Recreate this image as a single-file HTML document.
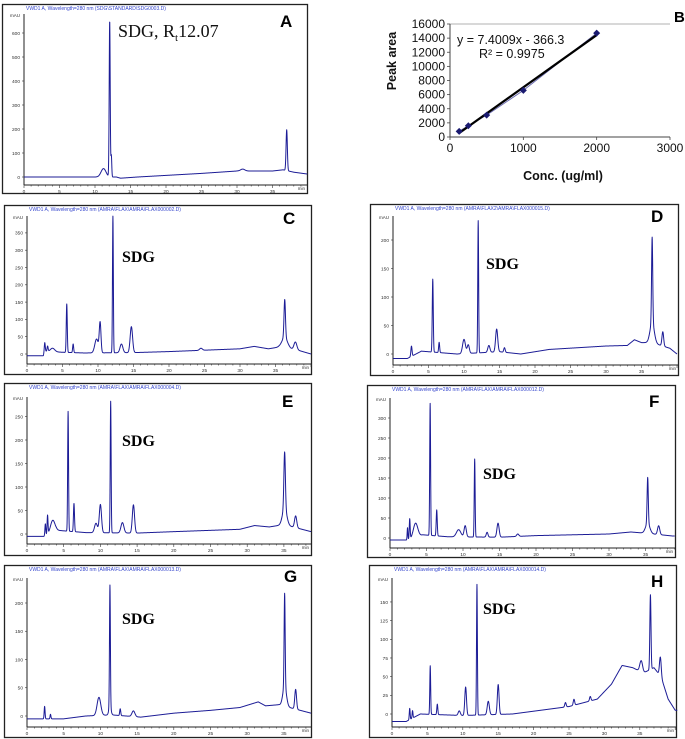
<!DOCTYPE html>
<html><head><meta charset="utf-8"><style>
body{margin:0;background:#fff;}
svg{display:block;font-family:"Liberation Sans",sans-serif;}
</style></head><body>
<svg id="fig" width="685" height="739" viewBox="0 0 685 739"></svg>
<script>
// ---- Panel B calibration data ----
const calConc = [125, 250, 500, 1000, 2000];
const calArea = [800, 1600, 3100, 6600, 14700];
const calXTicks = [0, 1000, 2000, 3000];
const calYTicks = [0, 2000, 4000, 6000, 8000, 10000, 12000, 14000, 16000];
const calSlope = 7.4009, calIntercept = -366.3;

// ---- Chromatogram data (retention time min, height mAU, width min) ----
const rtA = [11.2, 12.07, 12.3, 37.0, 30.8];
const hA  = [35, 650, 90, 170, 8];
const wA  = [0.35, 0.07, 0.06, 0.09, 0.3];
const btA = [0, 13, 13.6, 16, 25, 30, 35, 36.5, 38, 40];
const bvA = [0, 0, -5, 0, 15, 25, 25, 30, 20, 12];

const rtC = [2.5, 2.9, 3.6, 5.6, 6.5, 9.8, 10.3, 12.1, 13.3, 14.7, 24.5, 36.3, 36.3, 37.8];
const hC  = [25, 15, 10, 140, 25, 40, 85, 395, 25, 75, 6, 110, 30, 22];
const wC  = [0.07, 0.07, 0.3, 0.07, 0.07, 0.25, 0.12, 0.06, 0.2, 0.17, 0.2, 0.1, 0.4, 0.2];
const btC = [0, 2.3, 2.5, 5, 8, 15, 20, 30, 32, 34, 35.5, 38, 40];
const bvC = [-5, -5, 8, 5, 3, 4, 7, 15, 22, 15, 20, 12, 0];

const rtD = [2.6, 5.6, 6.5, 10.0, 10.6, 12.0, 13.5, 14.6, 15.7, 36.5, 36.5, 38.0];
const hD  = [18, 128, 18, 25, 15, 232, 12, 40, 8, 150, 35, 25];
const wD  = [0.08, 0.07, 0.07, 0.2, 0.15, 0.06, 0.15, 0.15, 0.1, 0.08, 0.3, 0.12];
const btD = [0, 2, 4, 9, 15, 18, 22, 30, 33, 34, 35, 36.5, 39, 40];
const bvD = [-8, -8, 5, 0, 4, 0, 8, 14, 15, 25, 20, 20, 10, 0];

const rtE = [2.5, 2.8, 3.5, 5.6, 6.4, 9.4, 10.0, 11.4, 13.0, 14.5, 35.1, 35.1, 36.6];
const hE  = [25, 40, 25, 255, 60, 20, 60, 280, 22, 60, 120, 35, 25];
const wE  = [0.06, 0.06, 0.3, 0.06, 0.07, 0.2, 0.15, 0.06, 0.2, 0.15, 0.1, 0.3, 0.15];
const btE = [0, 2.3, 4, 8, 15, 20, 29, 31, 33, 35, 38.7];
const bvE = [-5, -5, 8, 3, 2, 5, 10, 18, 15, 20, 5];

const rtF = [2.4, 2.7, 3.5, 5.5, 6.4, 9.4, 10.3, 11.6, 13.3, 14.8, 17.5, 35.3, 35.3, 36.8];
const hF  = [30, 50, 35, 330, 65, 18, 28, 195, 12, 35, 6, 115, 25, 22];
const wF  = [0.05, 0.06, 0.3, 0.06, 0.07, 0.3, 0.15, 0.06, 0.12, 0.15, 0.15, 0.08, 0.3, 0.15];
const btF = [0, 2.3, 4.5, 8, 15, 20, 30, 33, 35, 38.7];
const bvF = [-5, -5, 8, 3, 2, 6, 10, 15, 12, 5];

const rtG = [2.4, 3.2, 9.8, 11.3, 11.3, 12.7, 14.5, 35.1, 35.1, 36.6];
const hG  = [22, 8, 32, 215, 15, 12, 10, 165, 35, 35];
const wG  = [0.06, 0.06, 0.25, 0.06, 0.15, 0.07, 0.2, 0.07, 0.25, 0.12];
const btG = [0, 2, 5, 8, 11.5, 15.5, 20, 25, 29, 31.5, 32.5, 34.3, 38.7];
const bvG = [-5, -5, -5, 0, 2, -2, 5, 10, 15, 25, 18, 20, 5];

const rtH = [2.5, 2.9, 5.4, 6.4, 9.5, 10.4, 12.0, 13.6, 15.0, 24.5, 25.7, 28.0, 35.2, 36.5, 37.9];
const hH  = [15, 10, 65, 14, 6, 38, 175, 18, 40, 6, 8, 6, 15, 100, 25];
const wH  = [0.06, 0.06, 0.06, 0.07, 0.15, 0.12, 0.06, 0.15, 0.12, 0.1, 0.1, 0.1, 0.2, 0.08, 0.12];
const btH = [0, 2, 4, 10, 17, 25, 29, 31, 32.5, 34, 35.5, 37, 38, 39, 40];
const bvH = [-10, -10, 0, -2, 0, 10, 20, 40, 65, 62, 55, 62, 50, 20, 5];

const yTicksA = [0, 100, 200, 300, 400, 500, 600];
const yTicksC = [0, 50, 100, 150, 200, 250, 300, 350];
const yTicksD = [0, 50, 100, 150, 200];
const yTicksE = [0, 50, 100, 150, 200, 250];
const yTicksF = [0, 50, 100, 150, 200, 250, 300];
const yTicksG = [0, 50, 100, 150, 200];
const yTicksH = [0, 25, 50, 75, 100, 125, 150];
const xTicksChrom = [0, 5, 10, 15, 20, 25, 30, 35];

const NS = "http://www.w3.org/2000/svg";
const svg = document.getElementById('fig');
function mk(tag, attrs, parent, text){
  const e = document.createElementNS(NS, tag);
  for (const k in attrs) e.setAttribute(k, attrs[k]);
  if (text !== undefined) e.textContent = text;
  (parent || svg).appendChild(e);
  return e;
}
function interp(t, bt, bv){
  if (t <= bt[0]) return bv[0];
  for (let i = 1; i < bt.length; i++){
    if (t <= bt[i]){ const f = (t - bt[i-1]) / (bt[i] - bt[i-1]); return bv[i-1] + f * (bv[i] - bv[i-1]); }
  }
  return bv[bv.length - 1];
}

const panels = [
 {id:'a', letter:'A', box:[2,4,305,189], x0:24, ppm:7.1, zeroY:177, ppu:0.24, yTop:14, axY:185, tmax:39.9, yt:yTicksA, rt:rtA, h:hA, w:wA, bt:btA, bv:bvA, lx:280, ly:27, header:'VWD1 A, Wavelength=280 nm (SDG\\STANDARD\\SDG0003.D)'},
 {id:'c', letter:'C', box:[4,205,307,169], x0:27, ppm:7.1, zeroY:354, ppu:0.346, yTop:216, axY:364, tmax:40, yt:yTicksC, rt:rtC, h:hC, w:wC, bt:btC, bv:bvC, lx:283, ly:224, sx:122, sy:262, header:'VWD1 A, Wavelength=280 nm (AMRA\\FLAX\\AMRA\\FLAX000002.D)'},
 {id:'d', letter:'D', box:[370,204,308,171], x0:393, ppm:7.1, zeroY:354, ppu:0.57, yTop:216, axY:365, tmax:40, yt:yTicksD, rt:rtD, h:hD, w:wD, bt:btD, bv:bvD, lx:651, ly:222, sx:486, sy:269, header:'VWD1 A, Wavelength=280 nm (AMRA\\FLAX2\\AMRA\\FLAX000015.D)'},
 {id:'e', letter:'E', box:[4,383,307,172], x0:27, ppm:7.34, zeroY:534, ppu:0.47, yTop:397, axY:544, tmax:38.7, yt:yTicksE, rt:rtE, h:hE, w:wE, bt:btE, bv:bvE, lx:282, ly:407, sx:122, sy:446, header:'VWD1 A, Wavelength=280 nm (AMRA\\FLAX\\AMRA\\FLAX000004.D)'},
 {id:'f', letter:'F', box:[367,385,308,172], x0:390, ppm:7.3, zeroY:538, ppu:0.40, yTop:398, axY:548, tmax:39, yt:yTicksF, rt:rtF, h:hF, w:wF, bt:btF, bv:bvF, lx:649, ly:407, sx:483, sy:479, header:'VWD1 A, Wavelength=280 nm (AMRA\\FLAX\\AMRA\\FLAX000012.D)'},
 {id:'g', letter:'G', box:[4,565,307,172], x0:27, ppm:7.34, zeroY:716, ppu:0.565, yTop:578, axY:727, tmax:38.7, yt:yTicksG, rt:rtG, h:hG, w:wG, bt:btG, bv:bvG, lx:284, ly:582, sx:122, sy:624, header:'VWD1 A, Wavelength=280 nm (AMRA\\FLAX\\AMRA\\FLAX000013.D)'},
 {id:'h', letter:'H', box:[369,565,307,172], x0:392, ppm:7.08, zeroY:714, ppu:0.747, yTop:578, axY:727, tmax:40.3, yt:yTicksH, rt:rtH, h:hH, w:wH, bt:btH, bv:bvH, lx:651, ly:587, sx:483, sy:614, header:'VWD1 A, Wavelength=280 nm (AMRA\\FLAX\\AMRA\\FLAX000014.D)'}
];

panels.forEach(p => {
  const g = mk('g', {});
  
  
  const [bx, by, bw, bh] = p.box;
  const r = mk('rect', {x:bx+0.5, y:by+0.5, width:bw, height:bh, fill:'#fff', stroke:'#222', 'stroke-width':1.3}, g);
  
  
  const hd = mk('text', {x:p.x0+2, y:by+6, 'font-size':5, fill:'#3344cc'}, g, p.header);
  
  
  const right = bx + bw;
  const ya = mk('line', {x1:p.x0, y1:p.yTop, x2:p.x0, y2:p.axY, stroke:'#222', 'stroke-width':1}, g);
  
  
  const xa = mk('line', {x1:p.x0, y1:p.axY, x2:right, y2:p.axY, stroke:'#222', 'stroke-width':1}, g);
  
  
  const mau = mk('text', {x:p.x0-4, y:p.yTop+3, 'font-size':4.5, fill:'#333', 'text-anchor':'end'}, g, 'mAU');
  
  
  p.yt.forEach(v => {
    const y = p.zeroY - v * p.ppu;
    mk('line', {x1:p.x0-2, y1:y, x2:p.x0, y2:y, stroke:'#333', 'stroke-width':0.6}, g);
    const t = mk('text', {x:p.x0-4, y:y+1.8, 'font-size':4.8, fill:'#333', 'text-anchor':'end'}, g, String(v));
    
    
  });
  for (let m = 0; m <= p.tmax; m++){
    const x = p.x0 + m * p.ppm;
    mk('line', {x1:x, y1:p.axY, x2:x, y2:p.axY + (m % 5 === 0 ? 3 : 1.5), stroke:'#333', 'stroke-width':0.6}, g);
  }
  xTicksChrom.forEach(v => {
    const x = p.x0 + v * p.ppm;
    const t = mk('text', {x:x, y:p.axY+8, 'font-size':4.8, fill:'#333', 'text-anchor':'middle'}, g, String(v));
    
    
  });
  const mn = mk('text', {x:right-2, y:p.axY+5, 'font-size':4.5, fill:'#333', 'text-anchor':'end'}, g, 'min');
  
  
  let d = '';
  for (let t = 0; t <= p.tmax + 0.001; t += 0.02){
    let v = interp(t, p.bt, p.bv);
    for (let i = 0; i < p.rt.length; i++){
      const z = (t - p.rt[i]) / p.w[i];
      v += p.h[i] * Math.exp(-0.5 * z * z);
    }
    const x = p.x0 + t * p.ppm, y = p.zeroY - v * p.ppu;
    d += (d ? 'L' : 'M') + x.toFixed(2) + ' ' + y.toFixed(2);
  }
  const tr = mk('path', {d:d, fill:'none', stroke:'#1c1c96', 'stroke-width':1, 'stroke-linejoin':'round'}, g);
  
  
  const L = mk('text', {x:p.lx, y:p.ly, 'font-size':17, 'font-weight':'bold', fill:'#000'}, g, p.letter);
  
  
  if (p.sx){
    const s = mk('text', {x:p.sx, y:p.sy, 'font-size':16, 'font-weight':'bold', 'font-family':'Liberation Serif, serif', fill:'#000'}, g, 'SDG');
    
    
  }
});
const sa = mk('text', {x:118, y:37, 'font-size':18, 'font-family':'Liberation Serif, serif', fill:'#111'});


mk('tspan', {}, sa, 'SDG, R');
mk('tspan', {dy:4, 'font-size':11}, sa, 't');
mk('tspan', {dy:-4}, sa, '12.07');

// ---- Panel B ----
const gb = mk('g', {});


const bX = v => 450 + v / 3000 * 220;
const bY = v => 137 - v / 16000 * 113;
mk('line', {x1:450, y1:24, x2:670, y2:24, stroke:'#999', 'stroke-width':0.8}, gb);
const bya = mk('line', {x1:450, y1:24, x2:450, y2:137, stroke:'#444', 'stroke-width':1}, gb);


const bxa = mk('line', {x1:450, y1:137, x2:670, y2:137, stroke:'#444', 'stroke-width':1}, gb);


calYTicks.forEach(v => {
  mk('line', {x1:447, y1:bY(v), x2:450, y2:bY(v), stroke:'#444', 'stroke-width':0.8}, gb);
  const t = mk('text', {x:445, y:bY(v)+4, 'font-size':12, 'text-anchor':'end', fill:'#111'}, gb, String(v));
  
  
});
calXTicks.forEach(v => {
  mk('line', {x1:bX(v), y1:137, x2:bX(v), y2:140, stroke:'#444', 'stroke-width':0.8}, gb);
  const t = mk('text', {x:bX(v), y:152, 'font-size':12, 'text-anchor':'middle', fill:'#111'}, gb, String(v));
  
  
});
let pd = '';
calConc.forEach((c, i) => { pd += (i ? 'L' : 'M') + bX(c) + ' ' + bY(calArea[i]); });
mk('path', {d:pd, fill:'none', stroke:'#6a6ab0', 'stroke-width':1}, gb);
const x1 = calConc[0], x2 = calConc[calConc.length - 1];
const fit = mk('line', {x1:bX(x1), y1:bY(calSlope*x1+calIntercept), x2:bX(x2), y2:bY(calSlope*x2+calIntercept), stroke:'#000', 'stroke-width':2.2}, gb);


calConc.forEach((c, i) => {
  const x = bX(c), y = bY(calArea[i]);
  const m = mk('path', {d:`M${x} ${y-3.5}L${x+3.5} ${y}L${x} ${y+3.5}L${x-3.5} ${y}Z`, fill:'#1a1a70'}, gb);
  
  
});
const eq = mk('text', {x:457, y:44, 'font-size':12.5, fill:'#111'}, gb, 'y = 7.4009x - 366.3');


const r2 = mk('text', {x:479, y:58, 'font-size':12.5, fill:'#111'}, gb, 'R² = 0.9975');


const yt = mk('text', {x:0, y:0, 'font-size':12.5, 'font-weight':'bold', 'text-anchor':'middle', transform:'translate(396,61) rotate(-90)', fill:'#111'}, gb, 'Peak area');


const xt = mk('text', {x:563, y:180, 'font-size':12.5, 'font-weight':'bold', 'text-anchor':'middle', fill:'#111'}, gb, 'Conc. (ug/ml)');


const lb = mk('text', {x:674, y:22, 'font-size':15, 'font-weight':'bold', fill:'#000'}, gb, 'B');


</script>
</body></html>
